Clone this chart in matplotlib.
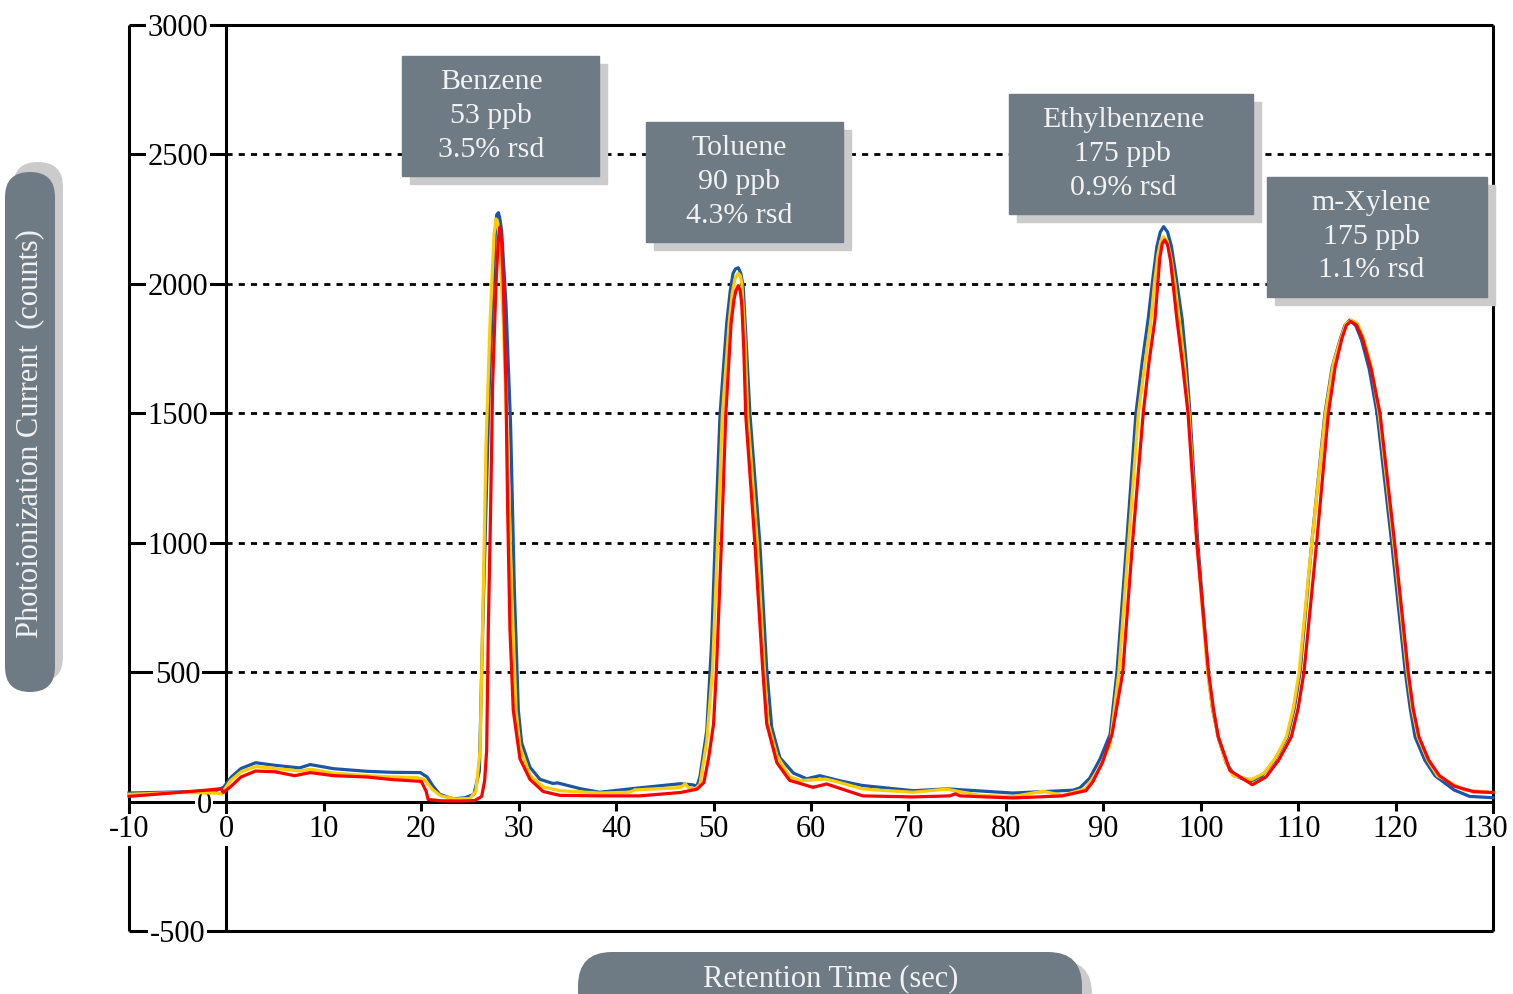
import matplotlib.pyplot as plt
from matplotlib.patches import Rectangle, FancyBboxPatch
from matplotlib.transforms import IdentityTransform

plt.rcParams['font.family'] = ['Liberation Serif', 'DejaVu Serif']

# three replicate runs
blue_x = [-10, -5, -1.2, -0.3, 0.5, 1.5, 3.0, 5.0, 7.5, 8.6, 11.0, 14.4, 17.0, 19.9, 20.6, 21.2, 21.9, 23.3,
          24.5, 25.4, 25.96, 26.30, 26.64, 26.98, 27.39, 27.6, 27.74, 27.91, 28.05, 28.25, 28.69, 29.17,
          29.55, 29.96, 30.3, 31.15, 32.18, 33.5, 34.0, 36.3, 38.3, 42.4, 46.6, 47.8, 48.3, 48.6, 49.3,
          49.8, 50.15, 50.66, 51.35, 51.7, 52.0, 52.25, 52.54, 52.8, 53.05, 53.74, 54.76, 55.45, 55.96,
          56.8, 58.2, 59.56, 60.9, 63.0, 65.3, 70.5, 74.0, 80.7, 86.9, 87.6, 88.6, 89.66, 90.7, 91.4,
          92.4, 93.35, 94.0, 94.6, 95.05, 95.5, 95.85, 96.2, 96.6, 97.0, 97.5, 98.1, 98.5, 98.9, 99.7,
          100.75, 101.2, 101.8, 102.6, 103.5, 105.05, 106.3, 107.6, 108.9, 109.6, 110.2, 111.4, 112.75,
          113.5, 114.3, 114.8, 115.3, 115.9, 116.5, 117.3, 118.1, 119.6, 121.0, 121.5, 122.0, 123.0,
          124.05, 126.0, 127.6, 130.0]
blue_y = [33, 37, 40, 55, 95, 128, 150, 140, 130, 143, 127, 117, 113, 112, 95, 60, 28, 10,
          15, 28, 118, 667, 1137, 1608, 2000, 2200, 2267, 2275, 2255, 2204, 1922, 1451,
          824, 353, 227, 133, 86, 70, 72, 50, 36, 53, 69, 65, 60, 96, 274,
          616, 993, 1493, 1849, 1970, 2041, 2058, 2062, 2040, 1986, 1493, 993, 514, 288,
          170, 110, 88, 100, 80, 62, 42, 49, 33, 44, 53, 90, 164, 260, 500,
          1000, 1500, 1700, 1861, 2010, 2144, 2200, 2221, 2200, 2144, 2020, 1861, 1700, 1500, 1000,
          500, 360, 250, 150, 100, 77, 100, 160, 250, 360, 500, 1000, 1500,
          1680, 1784, 1840, 1860, 1840, 1784, 1670, 1500, 1000, 500, 360, 250, 160,
          100, 45, 20, 15]

yellow_x = [-10, -5, -1.2, -0.5, 0.4, 1.5, 3.0, 5.0, 7.5, 8.6, 11.0, 14.4, 17.0, 19.5, 20.3, 21.2, 22.0,
            23.5, 25.0, 25.6, 26.03, 26.37, 26.64, 27.05, 27.46, 27.67, 27.85, 28.01, 28.42, 28.83, 29.27,
            29.72, 30.13, 31.15, 32.5, 34.2, 38.3, 41.4, 41.9, 46.6, 47.1, 47.4, 48.1, 48.6, 49.3,
            49.9, 50.4, 50.9, 51.6, 51.9, 52.2, 52.54, 52.75, 52.9, 53.2, 53.5, 54.5, 55.2, 55.6, 56.5,
            57.8, 58.9, 61.5, 62.3, 65.3, 67.0, 70.5, 73.9, 77.3, 80.7, 83.8, 85.8, 88.2, 89.6, 90.7,
            91.6, 92.6, 93.6, 94.3, 94.9, 95.25, 95.6, 95.9, 96.2, 96.55, 96.9, 97.35, 97.8, 98.3, 98.8,
            99.6, 100.7, 101.2, 101.8, 102.5, 103.3, 105.2, 106.5, 107.7, 108.8, 109.5, 110.1, 111.4,
            112.8, 113.6, 114.4, 114.9, 115.5, 116.1, 116.7, 117.5, 118.3, 119.8, 121.2, 121.7, 122.3,
            123.3, 124.3, 127.0, 130.0]
yellow_y = [28, 35, 33, 30, 80, 115, 135, 128, 118, 125, 110, 100, 95, 93, 85, 45, 22,
            10, 12, 40, 196, 824, 1373, 1843, 2188, 2251, 2235, 2173, 1843, 1373, 824,
            353, 212, 102, 57, 42, 33, 36, 45, 54, 69, 54, 48, 67, 233,
            514, 993, 1493, 1849, 1960, 2020, 2041, 2030, 2000, 1800, 1493, 993, 514, 301, 178,
            96, 81, 87, 80, 49, 44, 36, 48, 24, 19, 40, 24, 50, 130, 220,
            500, 1000, 1500, 1700, 1861, 2000, 2110, 2165, 2182, 2165, 2110, 2000, 1861, 1700, 1500,
            1000, 500, 360, 250, 160, 100, 85, 110, 170, 250, 360, 500, 1000,
            1500, 1690, 1790, 1845, 1860, 1845, 1790, 1680, 1500, 1000, 500, 360, 250,
            160, 100, 45, 35]

red_x = [-10, -5, -1.5, -0.6, -0.3, 0.5, 1.5, 3.0, 5.0, 7.0, 8.6, 11.0, 14.4, 17.0, 20.0, 20.5, 20.7,
         22.0, 24.0, 25.5, 26.2, 26.5, 26.71, 26.88, 27.12, 27.32, 27.67, 27.9, 28.08, 28.25, 28.42,
         28.69, 28.86, 29.1, 29.44, 30.13, 31.15, 32.5, 34.2, 38.3, 42.4, 46.6, 48.3, 49.0, 49.5, 50.0,
         50.3, 50.8, 51.25, 51.8, 52.1, 52.3, 52.54, 52.75, 52.9, 53.1, 53.3, 54.25, 55.04, 55.45,
         56.5, 57.8, 60.2, 61.6, 65.3, 70.5, 74.25, 74.8, 75.3, 80.7, 85.8, 88.2, 88.9, 89.9, 90.9,
         92.0, 93.0, 94.1, 94.7, 95.3, 95.8, 96.05, 96.3, 96.6, 96.9, 97.56, 98.1, 98.7, 99.6, 100.8,
         101.3, 101.8, 103.0, 105.3, 106.7, 108.0, 109.3, 110.0, 110.6, 111.9, 113.1, 113.8, 114.5,
         114.95, 115.4, 116.0, 116.6, 117.5, 118.4, 119.9, 121.3, 121.8, 122.4, 123.4, 124.5, 126.0,
         128.0, 130.0]
red_y = [20, 35, 46, 50, 35, 60, 95, 118, 115, 100, 112, 100, 95, 85, 78, 40, 8,
         3, 2, 4, 20, 80, 196, 667, 1137, 1608, 2000, 2170, 2220, 2160, 2000,
         1608, 1137, 667, 353, 165, 86, 39, 24, 22, 22, 35, 48, 73, 170, 300,
         514, 993, 1493, 1849, 1940, 1975, 1993, 1970, 1918, 1750, 1493, 993, 514, 301,
         150, 82, 55, 68, 22, 18, 22, 30, 22, 14, 22, 42, 75, 150, 260,
         500, 1000, 1500, 1700, 1861, 2100, 2155, 2170, 2150, 2090, 1861, 1700, 1500, 1000, 500,
         360, 250, 120, 65, 95, 160, 250, 360, 500, 1000, 1500, 1680, 1790,
         1840, 1855, 1840, 1790, 1670, 1500, 1000, 500, 360, 250, 160, 100, 60,
         38, 35]

x_ticks = [-10, 0, 10, 20, 30, 40, 50, 60, 70, 80, 90, 100, 110, 120, 130]
y_ticks = [3000, 2500, 2000, 1500, 1000, 500, -500]
grid_levels = [500, 1000, 1500, 2000, 2500]

compounds = ['Benzene', 'Toluene', 'Ethylbenzene', 'm-Xylene']
conc = ['53 ppb', '90 ppb', '175 ppb', '175 ppb']
rsd = ['3.5% rsd', '4.3% rsd', '0.9% rsd', '1.1% rsd']

# label boxes in data units
box_x0 = [18.0, 43.1, 80.3, 106.8]
box_x1 = [38.2, 63.3, 105.4, 129.4]
box_top = [2880, 2625, 2734, 2413]
box_bot = [2417, 2162, 2270, 1950]
text_x = [27.2, 52.6, 92.0, 117.5]

box_col = '#6e7a84'
shadow_col = '#cbcbcb'
txt_col = '#f2f2f2'
fs = 22

fig = plt.figure(figsize=(15.13, 9.94), dpi=100)
ax = fig.add_axes([129 / 1513, 63 / 994, 1364 / 1513, 906 / 994])
ax.set_xlim(-10, 130)
ax.set_ylim(-500, 3000)
ax.axis('off')

lw = 2.2
# frame
ax.hlines([3000, 0, -500], -10, 130, color='black', lw=lw, clip_on=False, zorder=1)
ax.vlines([-10, 0, 130], -500, 3000, color='black', lw=lw, clip_on=False, zorder=1)
# dotted grid and short left segments
ax.hlines(grid_levels, 0, 130, color='black', lw=2, linestyles=(0, (2.2, 2.2)), zorder=1)
ax.hlines(grid_levels, -10, 0, color='black', lw=lw, zorder=1)
# x ticks
ax.vlines(x_ticks[2:-1], -38, 0, color='black', lw=lw, zorder=1)

bb = dict(facecolor='white', edgecolor='none', pad=1)
for v in y_ticks:
    ax.text(-5, v, str(v), ha='center', va='center_baseline', fontsize=fs, bbox=bb, zorder=3)
ax.text(-2.3, -15, '0', ha='center', va='center', fontsize=fs, bbox=bb, zorder=3)
for v in x_ticks:
    xpos = v - 0.8 if v == 130 else v
    ax.text(xpos, -108, str(v), ha='center', va='center', fontsize=fs, bbox=bb, zorder=3)

# chromatograms
ax.plot(blue_x, blue_y, color='#1a56a5', lw=2.3, zorder=4, clip_on=False)
ax.plot(yellow_x, yellow_y, color='#ffcc00', lw=2.3, zorder=5, clip_on=False)
ax.plot(red_x, red_y, color='#ff0000', lw=2.3, zorder=6, clip_on=False)

# compound labels
dx, dy = 0.82, -31
for i in range(len(compounds)):
    w = box_x1[i] - box_x0[i]
    h = box_top[i] - box_bot[i]
    ax.add_patch(Rectangle((box_x0[i] + dx, box_bot[i] + dy), w, h, color=shadow_col,
                           zorder=7, clip_on=False))
    ax.add_patch(Rectangle((box_x0[i], box_bot[i]), w, h, color=box_col, zorder=8, clip_on=False))
    ax.text(text_x[i], (box_top[i] + box_bot[i]) / 2,
            compounds[i] + '\n' + conc[i] + '\n' + rsd[i],
            ha='center', va='center', color=txt_col, fontsize=fs - 0.5, linespacing=1.38, zorder=9)

# axis title pills (pixel coordinates)
px = IdentityTransform()
for (x, y, w, h, r, c) in [(13, 312, 50, 520, 25, shadow_col), (5, 302, 50, 520, 25, box_col),
                           (588, -46, 504, 80, 34, shadow_col), (578, -38, 504, 80, 34, box_col)]:
    fig.add_artist(FancyBboxPatch((x, y), w, h, boxstyle='round,pad=0,rounding_size=%d' % r,
                                  facecolor=c, edgecolor='none', transform=px))
fig.text(30 / 1513, 560 / 994, 'Photoionization Current  (counts)', rotation=90,
         ha='center', va='center', color=txt_col, fontsize=fs)
fig.text(831 / 1513, 15 / 994, 'Retention Time (sec)', ha='center', va='center',
         color=txt_col, fontsize=fs)

fig.savefig('out.png', dpi=100)
